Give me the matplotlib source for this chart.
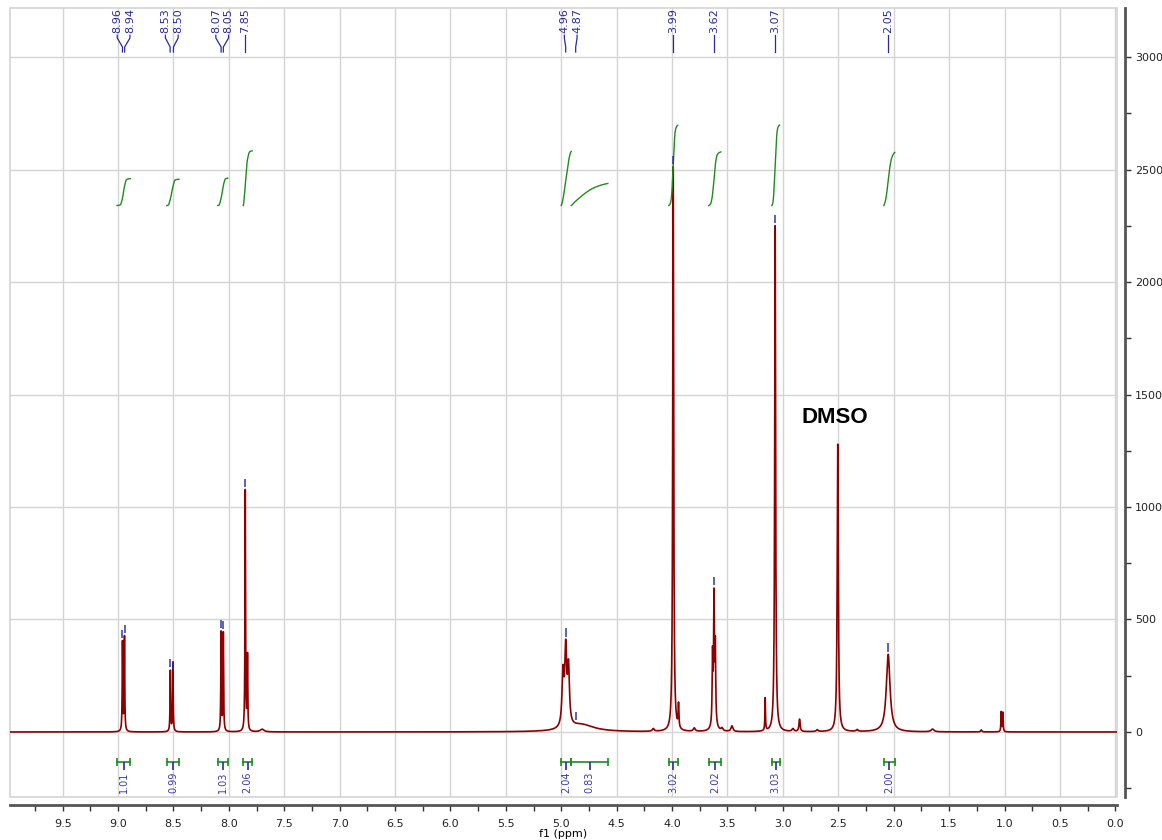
import numpy as np
import matplotlib
matplotlib.use('Agg')
import matplotlib.pyplot as plt
from matplotlib.ticker import MultipleLocator, FormatStrFormatter
from matplotlib.patches import Rectangle

# peaks (ppm, height, half width in ppm)
peak_ppm = [8.960, 8.942, 8.528, 8.505, 8.070, 8.050, 7.852, 7.832, 7.70,
            4.985, 4.960, 4.935, 4.82, 4.17, 3.990, 3.942, 3.80,
            3.635, 3.622, 3.610, 3.620, 3.55, 3.46, 3.16, 3.070,
            2.91, 2.85, 2.69, 2.505, 2.33, 2.050, 1.65, 1.21, 1.030, 1.015]
peak_height = [395, 418, 270, 305, 440, 436, 1070, 330, 12,
               230, 330, 250, 32, 12, 2510, 105, 15,
               300, 540, 330, 40, 12, 25, 145, 2250,
               12, 55, 8, 1278, 8, 345, 12, 9, 88, 85]
peak_width = [0.003, 0.003, 0.003, 0.003, 0.003, 0.003, 0.003, 0.003, 0.02,
              0.01, 0.01, 0.01, 0.14, 0.01, 0.005, 0.004, 0.01,
              0.004, 0.004, 0.004, 0.02, 0.01, 0.01, 0.003, 0.005,
              0.01, 0.006, 0.01, 0.006, 0.01, 0.02, 0.015, 0.006, 0.003, 0.003]

# picked peak labels
picks = [8.96, 8.94, 8.53, 8.50, 8.07, 8.05, 7.85, 4.96, 4.87, 3.99, 3.62, 3.07, 2.05]

# integration regions (from, to) and values
int_from = [9.01, 8.56, 8.10, 7.87, 5.00, 4.91, 4.03, 3.67, 3.10, 2.09]
int_to = [8.89, 8.45, 8.01, 7.79, 4.91, 4.58, 3.95, 3.56, 3.03, 1.99]
int_value = [1.01, 0.99, 1.03, 2.06, 2.04, 0.83, 3.02, 2.02, 3.03, 2.00]

blue = '#2a2a9c'
green = '#1e8c1e'

x = np.linspace(10.0, -0.05, 40000)
y = np.zeros_like(x)
for p, h, w in zip(peak_ppm, peak_height, peak_width):
    y += h / (1 + ((x - p) / w) ** 2)

fig = plt.figure(figsize=(11.62, 8.40), dpi=100)
ax = fig.add_axes([10 / 1162, 43 / 840, 1107 / 1162, 789 / 840])
ax.set_xlim(9.975, -0.015)
ax.set_ylim(-289, 3218)

ax.plot(x, y, color='#8b0000', lw=1.2, zorder=3)

# peak pick markers
for p in picks:
    m = np.abs(x - p) < 0.004
    top = y[m].max()
    ax.vlines(p, top + 12, top + 48, color=blue, lw=1.3, alpha=0.8, zorder=4)

# peak labels at the top, spread apart
pos = sorted(picks, reverse=True)
lab = list(pos)
for _ in range(300):
    moved = False
    for i in range(len(lab) - 1):
        d = lab[i] - lab[i + 1]
        if d < 0.115:
            s = (0.115 - d) / 2
            lab[i] += s
            lab[i + 1] -= s
            moved = True
    if not moved:
        break
tr = ax.get_xaxis_transform()
for p, lx in zip(pos, lab):
    ax.text(lx, 0.9685, f'{p:.2f}', rotation=90, ha='center', va='bottom',
            fontsize=8, color=blue, transform=tr)
    ax.plot([lx, lx, p, p], [0.9655, 0.962, 0.9506, 0.9442], color=blue, lw=0.9,
            transform=tr, clip_on=False)

# integral curves (smoothed a little) and brackets
for a, b, v in zip(int_from, int_to, int_value):
    m = (x <= a) & (x >= b)
    cum = np.cumsum(y[m])
    cum = cum / cum[-1]
    k = 60
    padded = np.concatenate([np.full(k, cum[0]), cum, np.full(k, cum[-1])])
    cum = np.convolve(padded, np.ones(2 * k + 1) / (2 * k + 1), mode='same')[k:-k]
    cum = (cum - cum[0]) / (cum[-1] - cum[0])
    ax.plot(x[m], 2340 + v * 118 * cum, color=green, lw=1.0, zorder=3)
    ax.plot([a, b], [-133, -133], color=green, lw=1.2)
    ax.vlines([a, b], -152, -114, color=green, lw=1.2)
    c = (a + b) / 2
    ax.vlines(c, -133, -170, color=blue, lw=1.2)
    ax.text(c, -176, f'{v:.2f}', rotation=90, ha='center', va='top',
            fontsize=7, color='#3a3aaa')

ax.text(2.53, 1396, 'DMSO', fontsize=16, fontweight='bold', ha='center',
        va='center', family='Liberation Sans')

# axes styling
ax.xaxis.set_major_locator(MultipleLocator(0.5))
ax.xaxis.set_minor_locator(MultipleLocator(0.25))
ax.xaxis.set_major_formatter(FormatStrFormatter('%.1f'))
ax.yaxis.set_major_locator(MultipleLocator(500))
ax.yaxis.set_minor_locator(MultipleLocator(250))
ax.yaxis.tick_right()
ax.grid(True, which='major', color='#d4d4d4', lw=1)
ax.set_axisbelow(True)
for s in ['left', 'top']:
    ax.spines[s].set_visible(False)
for s in ['bottom', 'right']:
    ax.spines[s].set_position(('outward', 6))
    ax.spines[s].set_color('#555555')
    ax.spines[s].set_linewidth(2)
ax.add_patch(Rectangle((0, 0), 1, 1, transform=ax.transAxes, fill=False,
                       edgecolor='#d4d4d4', lw=1.2, clip_on=False))
ax.tick_params(axis='both', which='both', direction='out', color='#333333',
               labelsize=8, labelcolor='#222222')
ax.tick_params(axis='x', which='both', length=4, width=1, pad=6)
ax.tick_params(axis='y', which='both', length=4, width=1, pad=3)
ax.set_xlabel('f1 (ppm)', fontsize=8, labelpad=0)

fig.savefig('out.png', dpi=100)
